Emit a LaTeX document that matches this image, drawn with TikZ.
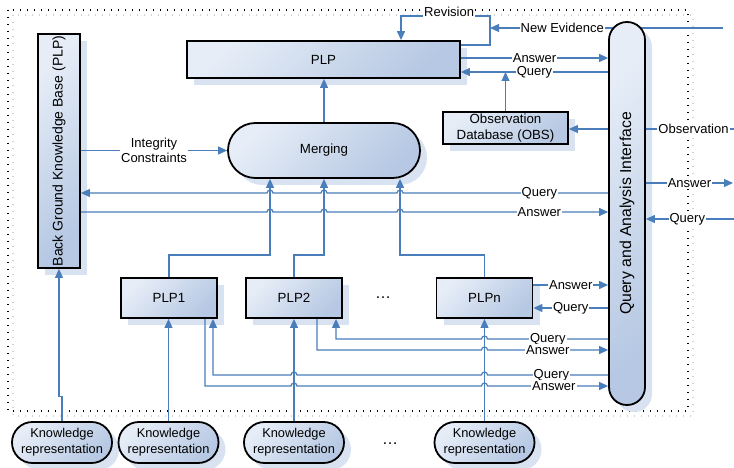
\documentclass[tikz,border=0pt]{standalone}
\usepackage{fontspec}
\setmainfont{Liberation Sans}
\usepackage{graphicx}
\usepackage{tikz}
\usetikzlibrary{arrows.meta,shadows,positioning}
\definecolor{boxhi}{HTML}{E6EDF7}
\definecolor{boxlo}{HTML}{B6C8E3}
\definecolor{boxsh}{HTML}{D8E2F0}
\definecolor{wire}{HTML}{4A7EBB}
\definecolor{framesh}{HTML}{CDD2D8}
\newcommand{\hop}[2]{-- ({#1-3},#2) arc[start angle=180,end angle=0,radius=3pt]}
\tikzset{
  box/.style={draw=black, line width=1.8pt, top color=boxhi, bottom color=boxlo, shading angle=45,
    drop shadow={shadow xshift=7pt, shadow yshift=-7pt, fill=boxsh, opacity=1},
    inner sep=0pt, align=center, font=\fontsize{13.3}{16}\selectfont},
  pill/.style={box, rounded corners=#1},
  link/.style={draw=wire, line width=1.2pt, >={Triangle[length=9pt,width=8pt]}},
  lab/.style={fill=white, inner sep=1pt, align=center, font=\fontsize{13}{15}\selectfont},
  dotline/.style={line width=1.3pt, dash pattern=on 1.3pt off 5.7pt},
}

\begin{document}
\begin{tikzpicture}[x=1pt, y=-1pt]
\useasboundingbox (0,0) rectangle (734,468);
\draw[framesh, dotline] (13,15) rectangle (693,416);
\draw[dotline] (8,10) rectangle (688,411);
\coordinate (evin) at (723,28);
\coordinate (rv) at (490,28);
\draw[link,->] (evin) -- node[lab,pos=.69]{New Evidence} (rv);

\node[box, minimum width=42pt, minimum height=234pt] (bkb) at (59,151) {\rotatebox{90}{\fontsize{14}{15}\selectfont Back Ground Knowledge Base (PLP)}};
\node[box, minimum width=273pt, minimum height=37pt] (plp) at (323.5,59.5) {PLP};
\node[pill=27.4pt, minimum width=192pt, minimum height=55pt] (merge) at (324,150.5) {Merging};
\node[box, minimum width=125pt, minimum height=32pt] (obs) at (505.5,128) {Observation\\Database (OBS)};
\node[pill=17.9pt, minimum width=36pt, minimum height=383pt] (qai) at (627,213.5) {\rotatebox{90}{\fontsize{15.8}{17}\selectfont Query and Analysis Interface}};
\node[box, minimum width=96pt, minimum height=40pt] (plp1) at (169,298) {PLP1};
\node[box, minimum width=96pt, minimum height=40pt] (plp2) at (294,298) {PLP2};
\node[box, minimum width=96pt, minimum height=40pt] (plpn) at (484.5,298) {PLPn};
\node[lab, font=\fontsize{16}{16}\selectfont] (more1) at (383,298) {\dots};
\foreach \k/\x in {1/62,2/168.5,3/294,4/484.5}
  \node[pill=20.4pt, minimum width=100pt, minimum height=41pt, font=\fontsize{12.8}{16}\selectfont] (kr\k) at (\x,442.5) {Knowledge\\representation};
\node[lab, font=\fontsize{16}{16}\selectfont] (more2) at (390,444) {\dots};

\draw[link,->] (bkb.east |- merge.west) -- node[lab]{Integrity\\Constraints} (merge.west);
\draw[link,->] (merge.north) -- (merge.north |- plp.south);
\draw[link,->] (plp.east |- 0,45) -| (490,16) -| node[lab,pos=.23,yshift=4pt]{Revision} ([xshift=77.5pt]plp.north);
\draw[link,->] (plp.east |- 0,58) -- node[lab]{Answer} (qai.west |- 0,58);
\draw[link,<-] (plp.east |- 0,72) -- node[lab]{Query} (qai.west |- 0,72);
\draw[link,->] (obs.north) -- (obs.north |- 0,72);
\draw[link,<-] (obs.east |- 0,129) -- (qai.west |- 0,129);
\coordinate (obsin) at (734,129);
\coordinate (ansout) at (733,183);
\coordinate (qin) at (734,219);
\draw[link] (qai.east |- obsin) -- node[lab,pos=.54]{Observation} (obsin);
\draw[link,->] (qai.east |- ansout) -- node[lab,pos=.5]{Answer} (ansout);
\draw[link,<-] (qai.east |- qin) -- node[lab,pos=.47]{Query} (qin);

\draw[link,<-] (bkb.east |- 0,193) \hop{270}{193} \hop{324}{193} \hop{400}{193} -- node[lab,pos=.665]{Query} (qai.west |- 0,193);
\draw[link,->] (bkb.east |- 0,212) \hop{270}{212} \hop{324}{212} \hop{400}{212} -- node[lab,pos=.665]{Answer} (qai.west |- 0,212);
\draw[link,->] (plp1.north) |- (270,255) -- (270,255 |- merge.south);
\draw[link,->] (plp2.north) |- (merge.south |- 0,255) -- (merge.south);
\draw[link,->] (plpn.north) |- (400,255) -- (400,255 |- merge.south);

\draw[link,->] (plpn.east |- 0,285) -- node[lab]{Answer} (qai.west |- 0,285);
\draw[link,<-] (plpn.east |- 0,308) -- node[lab]{Query} (qai.west |- 0,308);
\draw[link,<-] ([xshift=42pt]plp2.south) |- (460,339) \hop{484.5}{339} -- node[lab,pos=.5]{Query} (qai.west |- 0,339);
\draw[link,->] ([xshift=23pt]plp2.south) |- (460,350) \hop{484.5}{350} -- node[lab,pos=.5]{Answer} (qai.west |- 0,350);
\draw[link,<-] ([xshift=44pt]plp1.south) |- (250,375) \hop{294}{375} \hop{484.5}{375} -- node[lab,pos=.53]{Query} (qai.west |- 0,375);
\draw[link,->] ([xshift=36pt]plp1.south) |- (250,386) \hop{294}{386} \hop{484.5}{386} -- node[lab,pos=.55]{Answer} (qai.west |- 0,386);

\draw[link,->] (kr1.north) -- ++(0,-25) -| (bkb.south);
\draw[link,->] (kr2.north) -- (kr2.north |- plp1.south);
\draw[link,->] (kr3.north) -- (plp2.south);
\draw[link,->] (kr4.north) -- (plpn.south);
\end{tikzpicture}
\end{document}
